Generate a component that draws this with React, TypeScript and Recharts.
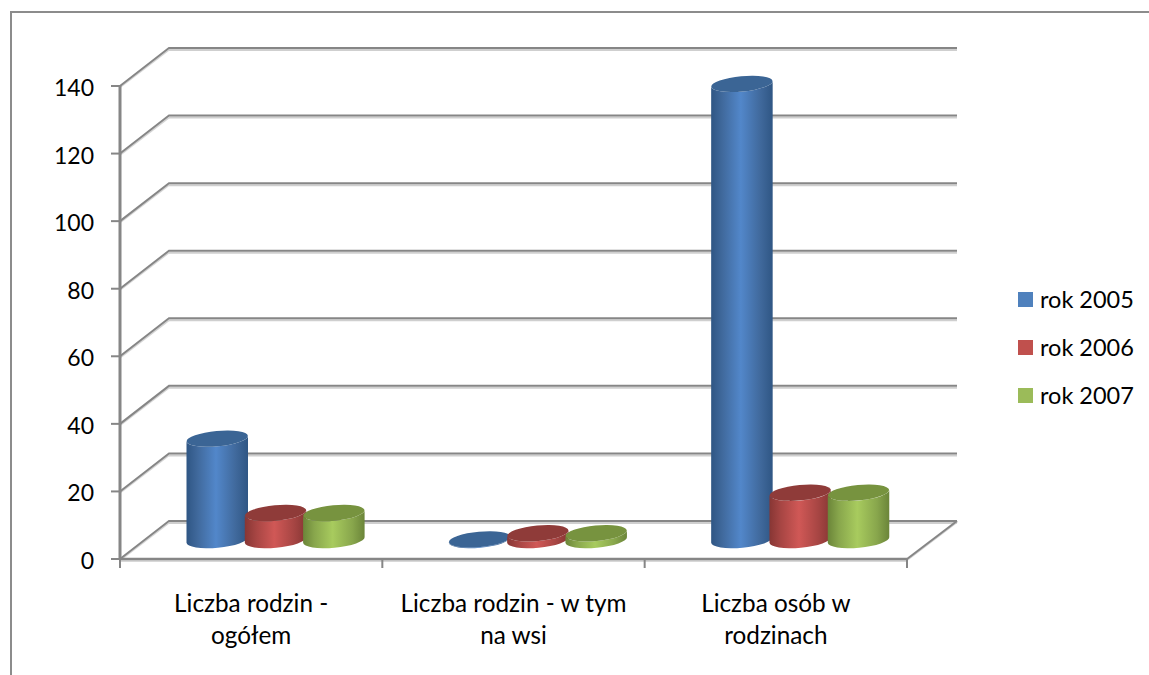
import { BarChart, Bar, XAxis, YAxis, CartesianGrid, Legend } from "recharts";

const CATEGORIES = ["Liczba rodzin -|ogółem", "Liczba rodzin - w tym|na wsi", "Liczba osób w|rodzinach"];
const ROK_2005 = [30, 0.2, 135];
const ROK_2006 = [8, 2, 14];
const ROK_2007 = [8, 2, 14];
const Y_TICKS = [0, 20, 40, 60, 80, 100, 120, 140];

const SERIES = [
  { key: "rok2005", name: "rok 2005", values: ROK_2005, color: "#4f81bd", edge: "#2f5684", soft: "#40699c", mid: "#5287ca", top: "#3b6595", rim: "#a9c6ee" },
  { key: "rok2006", name: "rok 2006", values: ROK_2006, color: "#c0504d", edge: "#873634", soft: "#a64543", mid: "#d05856", top: "#8f3b39", rim: "#eeaaa8" },
  { key: "rok2007", name: "rok 2007", values: ROK_2007, color: "#9bbb59", edge: "#6b8539", soft: "#88a64c", mid: "#a8cb5e", top: "#77933f", rim: "#d4e8a8" },
];

const chartData = CATEGORIES.map((name, i) => ({
  name,
  rok2005: ROK_2005[i],
  rok2006: ROK_2006[i],
  rok2007: ROK_2007[i],
}));

const FONT = "Lato, sans-serif";
const AXIS_COLOR = "#868686";

// depth of the fake 3D box, front plane -> back wall
const DEPTH_X = 49;
const DEPTH_Y = 38;
const TILT = 5.3;
const RY = 7.7;

function Cylinder(props: any) {
  const { x, y, width, height, gradId, top, rim } = props;
  const rx = width / 2;
  const cx = x + rx + DEPTH_X / 2;
  const topY = y - DEPTH_Y / 2;
  const botY = y + height - DEPTH_Y / 2;
  const rad = (TILT * Math.PI) / 180;
  const dx = rx;
  const dy = rx * Math.sin(rad);
  const arc = `A ${rx} ${RY} ${-TILT} 0 0`;
  const arcBack = `A ${rx} ${RY} ${-TILT} 0 1`;
  const body = `M ${cx - dx} ${topY + dy} L ${cx - dx} ${botY + dy} ${arc} ${cx + dx} ${botY - dy} L ${cx + dx} ${topY - dy} ${arcBack} ${cx - dx} ${topY + dy} Z`;
  return (
    <g>
      <path d={`M ${cx - dx + 6} ${botY + dy + 2.5} ${arc} ${cx + dx - 6} ${botY - dy + 3.5}`} fill="none" stroke={rim} strokeWidth={1.5} />
      <path d={body} fill={`url(#${gradId})`} />
      <ellipse cx={cx} cy={topY} rx={rx} ry={RY} fill={top} transform={`rotate(${-TILT} ${cx} ${topY})`} />
    </g>
  );
}

function GridLine(props: any) {
  const { x1, x2, y1, index } = props;
  const backY = y1 - DEPTH_Y;
  const backL = x1 + DEPTH_X;
  const backR = x2 + DEPTH_X + 1;
  const isFloor = Math.abs(y1 - 559) < 1;
  return (
    <g key={index}>
      <line x1={backL} y1={backY + 2} x2={backR} y2={backY + 2} stroke="#cfcfcf" strokeWidth={2} />
      <line x1={x1} y1={y1 + 1.5} x2={backL} y2={backY + 2} stroke="#d4d4d4" strokeWidth={1.5} />
      <polyline points={`${x1},${y1} ${backL},${backY} ${backR},${backY}`} fill="none" stroke={AXIS_COLOR} strokeWidth={2} />
      {isFloor && (
        <>
          <line x1={x1} y1={y1 + 2} x2={x2} y2={y1 + 2} stroke="#d8d8d8" strokeWidth={2} />
          <line x1={x2} y1={y1 + 1} x2={backR} y2={backY + 1} stroke="#cfcfcf" strokeWidth={2} />
          <line x1={x2} y1={y1} x2={backR} y2={backY} stroke={AXIS_COLOR} strokeWidth={2} />
        </>
      )}
    </g>
  );
}

// excel puts the category tick marks between the groups, not under them
function CategoryTick({ x, y, payload, width, index }: any) {
  const lines = String(payload.value).split("|");
  const half = width / CATEGORIES.length / 2;
  const axisY = y - 8 - 2;
  return (
    <g>
      <line x1={x - half} y1={axisY} x2={x - half} y2={axisY + 9} stroke={AXIS_COLOR} strokeWidth={2} />
      {index === CATEGORIES.length - 1 && (
        <line x1={x + half} y1={axisY} x2={x + half} y2={axisY + 9} stroke={AXIS_COLOR} strokeWidth={2} />
      )}
      <text x={x} y={y} textAnchor="middle" fontFamily={FONT} fontSize={24.3} fill="#000">
        {lines.map((line, i) => (
          <tspan key={i} x={x} y={y + 43 + i * 32}>
            {line}
          </tspan>
        ))}
      </text>
    </g>
  );
}

function ValueTick({ y, payload }: any) {
  return (
    <text x={94} y={y + 10} textAnchor="end" fontFamily={FONT} fontSize={23} fill="#000">
      {payload.value}
    </text>
  );
}

function LegendList({ payload }: any) {
  return (
    <div style={{ fontFamily: FONT, fontSize: 23.5, color: "#000" }}>
      {(payload ?? []).map((entry: any) => (
        <div key={entry.value} style={{ display: "flex", alignItems: "center", height: 48 }}>
          <span style={{ width: 15, height: 15, background: entry.color, marginRight: 7, display: "inline-block" }} />
          <span>{entry.value}</span>
        </div>
      ))}
    </div>
  );
}

export default function App() {
  return (
    <div style={{ position: "absolute", left: 0, top: 0, width: 1149, height: 675, overflow: "hidden", background: "#fff" }}>
      <div
        style={{
          position: "absolute",
          left: 9.5,
          top: 11,
          width: 1139,
          height: 664,
          borderLeft: "2px solid #8c8c8c",
          borderTop: "2px solid #8c8c8c",
        }}
      />
      <div style={{ position: "absolute", left: 0, top: 0 }}>
        <BarChart
          width={1149}
          height={675}
          data={chartData}
          margin={{ top: 86, right: 112, left: 0, bottom: 0 }}
          barSize={61.5}
          barGap={-3.2}
        >
          <defs>
            {SERIES.map((s) => (
              <linearGradient key={s.key} id={`grad-${s.key}`} x1="0" y1="0" x2="1" y2="0">
                <stop offset="0%" stopColor={s.edge} />
                <stop offset="18%" stopColor={s.soft} />
                <stop offset="48%" stopColor={s.mid} />
                <stop offset="80%" stopColor={s.soft} />
                <stop offset="100%" stopColor={s.edge} />
              </linearGradient>
            ))}
          </defs>
          <CartesianGrid vertical={false} horizontal={(p: any) => <GridLine {...p} />} />
          <XAxis
            dataKey="name"
            height={116}
            tick={<CategoryTick />}
            tickSize={8}
            tickLine={false}
            axisLine={{ stroke: AXIS_COLOR, strokeWidth: 2.5 }}
            interval={0}
          />
          <YAxis
            width={120}
            domain={[0, 140]}
            ticks={Y_TICKS}
            tick={<ValueTick />}
            tickSize={9}
            tickLine={{ stroke: AXIS_COLOR, strokeWidth: 2 }}
            axisLine={{ stroke: AXIS_COLOR, strokeWidth: 3 }}
          />
          <Legend
            layout="vertical"
            align="right"
            verticalAlign="middle"
            width={130}
            content={<LegendList />}
            wrapperStyle={{ left: 1018, top: 275, width: 130 }}
          />
          {SERIES.map((s) => (
            <Bar
              key={s.key}
              dataKey={s.key}
              name={s.name}
              fill={s.color}
              isAnimationActive={false}
              shape={(p: any) => <Cylinder {...p} gradId={`grad-${s.key}`} top={s.top} rim={s.rim} />}
            />
          ))}
        </BarChart>
      </div>
    </div>
  );
}
